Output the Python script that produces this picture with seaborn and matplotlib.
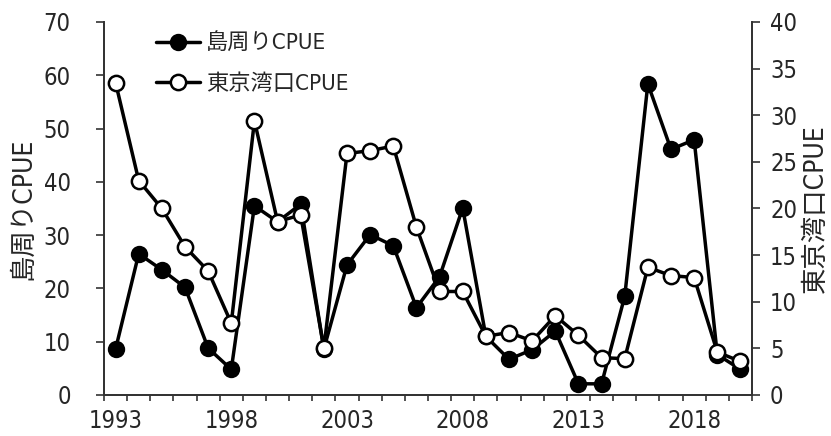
import matplotlib
matplotlib.use('Agg')
import matplotlib.pyplot as plt
import seaborn as sns
import pandas as pd
from matplotlib.ticker import FixedLocator, MultipleLocator

years = list(range(1993, 2021))
shima_cpue = [8.6, 26.5, 23.5, 20.2, 8.8, 4.8, 35.5, 32.5, 35.8, 8.6,
              24.4, 30.1, 28.0, 16.4, 22.2, 35.1, 11.0, 6.7, 8.5, 12.0,
              2.1, 2.1, 18.5, 58.4, 46.1, 47.9, 7.6, 4.8]
tokyo_cpue = [33.5, 23.0, 20.0, 15.9, 13.3, 7.7, 29.4, 18.6, 19.3, 5.0,
              25.9, 26.2, 26.7, 18.0, 11.1, 11.1, 6.3, 6.7, 5.8, 8.5,
              6.4, 4.0, 3.9, 13.7, 12.8, 12.6, 4.6, 3.6]
label_shima = '島周りCPUE'
label_tokyo = '東京湾口CPUE'
xtick_years = [1993, 1998, 2003, 2008, 2013, 2018]

df = pd.DataFrame({'year': years, 'shima': shima_cpue, 'tokyo': tokyo_cpue})

sns.set_style('ticks')
plt.rcParams['font.family'] = ['DejaVu Sans', 'Noto Sans CJK JP']
plt.rcParams['font.stretch'] = 'condensed'

fig = plt.figure(figsize=(8.31, 4.36), dpi=100)
ax = fig.add_axes([104/831, 1-395/436, (752-104)/831, (395-22)/436])
ax2 = ax.twinx()

lw = 2.5
ms = 11
sns.lineplot(data=df, x='year', y='shima', ax=ax, color='black', linewidth=lw,
             marker='o', markersize=ms, markerfacecolor='black',
             markeredgecolor='black', markeredgewidth=1.5, label=label_shima,
             legend=False, clip_on=False)
sns.lineplot(data=df, x='year', y='tokyo', ax=ax2, color='black', linewidth=lw,
             marker='o', markersize=ms, markerfacecolor='white',
             markeredgecolor='black', markeredgewidth=1.8, label=label_tokyo,
             legend=False, clip_on=False)

ax.set_xlim(1992.5, 2020.5)
ax.set_ylim(0, 70)
ax2.set_ylim(0, 40)
ax.set_yticks(range(0, 71, 10))
ax2.set_yticks(range(0, 41, 5))
ax.xaxis.set_major_locator(FixedLocator(xtick_years))
ax.xaxis.set_minor_locator(MultipleLocator(1, offset=0.5))
ax.tick_params(axis='x', which='major', length=0, pad=10, labelsize=17)
ax.tick_params(axis='x', which='minor', length=4, width=1.2, direction='out', color='#333333')
ax.tick_params(axis='y', length=6, width=1.2, pad=18, labelsize=17, color='#333333')
ax2.tick_params(axis='y', length=6, width=1.2, pad=7, labelsize=17, color='#333333')
ax.set_xlabel('')
ax.set_ylabel(label_shima, fontsize=19)
ax2.set_ylabel(label_tokyo, fontsize=19, rotation=90)
ax.yaxis.set_label_coords(-0.104, 0.5)
ax2.yaxis.set_label_coords(1.078, 0.5)

for a in (ax, ax2):
    a.spines['top'].set_visible(False)
    for s in ('left', 'right', 'bottom'):
        a.spines[s].set_color('#333333')
        a.spines[s].set_linewidth(1.3)

h1, l1 = ax.get_legend_handles_labels()
h2, l2 = ax2.get_legend_handles_labels()
leg = ax2.legend(h1 + h2, l1 + l2, loc='upper left', bbox_to_anchor=(156/831, 1-33/436),
                 bbox_transform=fig.transFigure, frameon=False, fontsize=16,
                 handlelength=2.0, handletextpad=0.25, labelspacing=0.85,
                 borderaxespad=0, borderpad=0)

fig.savefig('out.png', dpi=100)
